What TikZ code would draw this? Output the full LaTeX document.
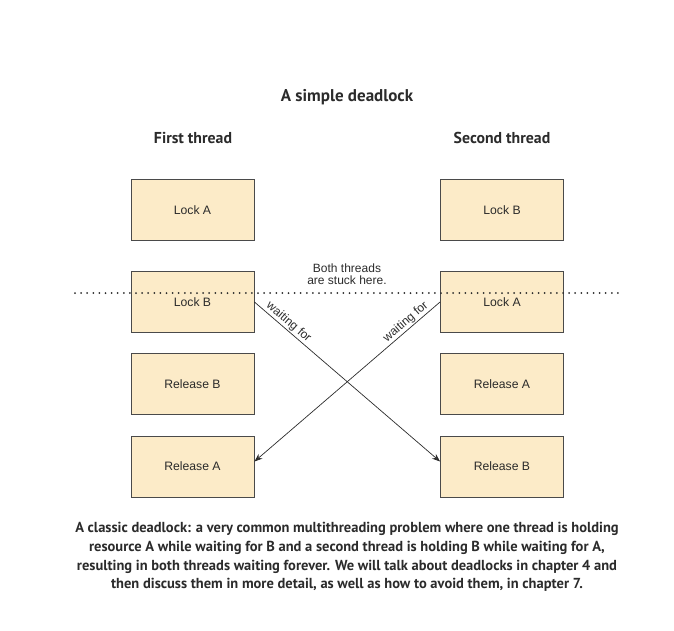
\documentclass[tikz,border=0pt]{standalone}
\usepackage{fontspec}
\setmainfont{Liberation Sans}
\newfontfamily\capfont{PT Sans}
\usetikzlibrary{arrows.meta,calc}
\definecolor{boxfill}{HTML}{FCEBC8}
\definecolor{boxline}{HTML}{4A4A4A}
\definecolor{txt}{HTML}{2B2B2B}
\begin{document}
\begin{tikzpicture}[x=1pt,y=-1pt,
  stepbox/.style={draw=boxline, line width=0.9pt, fill=boxfill, minimum width=123pt, minimum height=61pt, inner sep=0pt, font=\fontsize{12.2}{14}\selectfont, text=txt},
  head/.style={font=\capfont\bfseries\fontsize{15.8}{18}\selectfont, text=txt},
  wait/.style={draw=txt, line width=0.7pt, -{Stealth[length=8pt,width=6pt]}},
  lbl/.style={font=\fontsize{12}{13.5}\selectfont, text=txt}]
\path[use as bounding box] (0,0) rectangle (674,630);
\node[head, font=\capfont\bfseries\fontsize{17}{19}\selectfont] (title) at (347,97) {A simple deadlock};
\node[head] (t1) at (193,138) {First thread};
\node[head] (t2) at (502,138) {Second thread};
\node[stepbox] (la) at (192.5,210) {Lock A};
\node[stepbox] (lb) at (192.5,302) {};
\node[stepbox, draw=none, fill=none, anchor=base] (lbt) at (192.5,306) {Lock B};
\node[stepbox] (rb) at (192.5,384) {Release B};
\node[stepbox] (ra) at (192.5,466.5) {Release A};
\node[stepbox] (lb2) at (502,210) {Lock B};
\node[stepbox] (la2) at (502,302) {};
\node[stepbox, draw=none, fill=none, anchor=base] (lat) at (502,306) {Lock A};
\node[stepbox] (ra2) at (502,384) {Release A};
\node[stepbox] (rb2) at (502,466.5) {Release B};
\node[lbl, align=center] (stuck) at (347,274) {Both threads\\[-1.5pt]are stuck here.};
\coordinate (dl) at (75,293);
\coordinate (dr) at (622,293);
\draw[txt, line width=2pt, line cap=round, dash pattern=on 0pt off 6.1pt] (dl) -- (dr);
\draw[wait] (lb.east) -- node[lbl, sloped, above, pos=0.16, inner sep=1pt]{waiting for} ($(rb2.west)+(0,-5)$);
\draw[wait] (la2.west) -- node[lbl, sloped, above, pos=0.16, inner sep=1pt]{waiting for} ($(ra.east)+(0,-5)$);
\node[font=\capfont\bfseries\fontsize{14.5}{18.8}\selectfont, text=txt, align=center] (cap) at (347,557) {A classic deadlock: a very common multithreading problem where one thread is holding\\resource A while waiting for B and a second thread is holding B while waiting for A,\\resulting in both threads waiting forever. We will talk about deadlocks in chapter 4 and\\then discuss them in more detail, as well as how to avoid them, in chapter 7.};
\end{tikzpicture}
\end{document}
